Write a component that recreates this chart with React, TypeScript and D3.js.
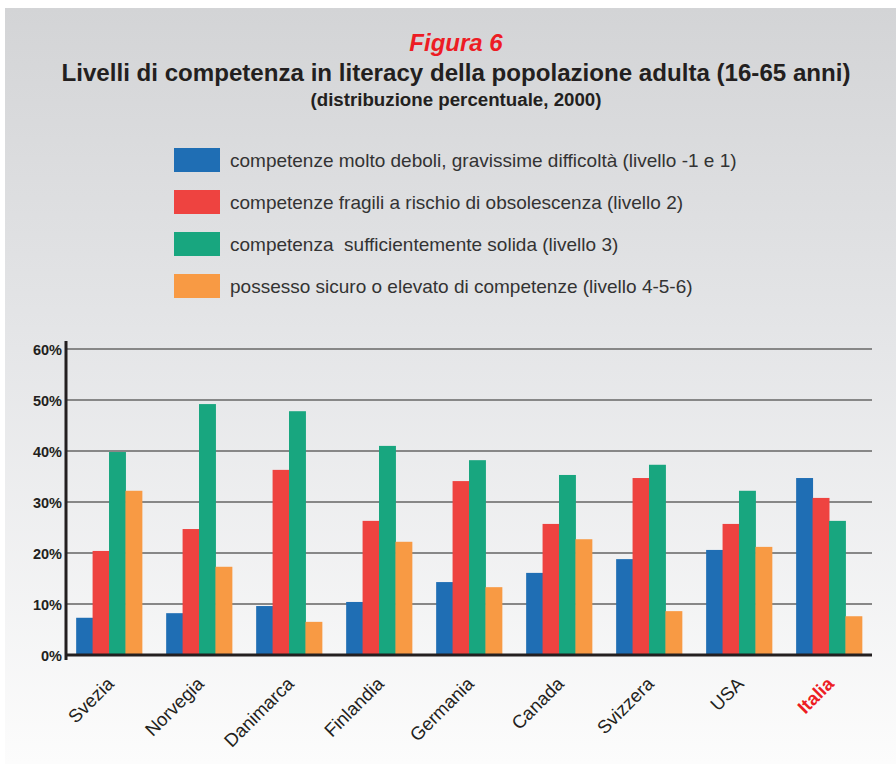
import React from "react";
import * as d3 from "d3";

const countries = ["Svezia", "Norvegia", "Danimarca", "Finlandia", "Germania", "Canada", "Svizzera", "USA", "Italia"];
const seriesNames = [
  "competenze molto deboli, gravissime difficoltà (livello -1 e 1)",
  "competenze fragili a rischio di obsolescenza (livello 2)",
  "competenza  sufficientemente solida (livello 3)",
  "possesso sicuro o elevato di competenze (livello 4-5-6)",
];
const level1 = [7.3, 8.2, 9.6, 10.4, 14.3, 16.1, 18.8, 20.6, 34.7];
const level2 = [20.4, 24.7, 36.3, 26.3, 34.1, 25.7, 34.7, 25.7, 30.8];
const level3 = [39.8, 49.2, 47.8, 41.0, 38.2, 35.3, 37.3, 32.2, 26.3];
const level4 = [32.2, 17.3, 6.5, 22.2, 13.3, 22.7, 8.6, 21.2, 7.6];
const yTicks = [0, 10, 20, 30, 40, 50, 60];
const colors = ["#1f6eb4", "#ee4340", "#18a67f", "#f89a44"];

const series = [level1, level2, level3, level4];

export default function App() {
  const W = 896, H = 764;
  const x0 = 66, x1 = 872, yBase = 655, yTop = 349;
  const x = d3.scaleBand<string>().domain(countries).range([x0, x1]).paddingInner(0.27).paddingOuter(0.113);
  const xi = d3.scaleBand<number>().domain([0, 1, 2, 3]).range([0, x.bandwidth()]).padding(0);
  const y = d3.scaleLinear().domain([0, 60]).range([yBase, yTop]);
  const font = "'Liberation Sans', Arial, Helvetica, sans-serif";

  return (
    <svg width={W} height={H} style={{ position: "absolute", left: 0, top: 0 }} fontFamily={font}>
      <defs>
        <linearGradient id="bg" x1="0" y1="0" x2="0" y2="1">
          <stop offset="0" stopColor="#d3d4d6" />
          <stop offset="0.45" stopColor="#e5e6e8" />
          <stop offset="1" stopColor="#fcfcfc" />
        </linearGradient>
      </defs>
      <rect x={0} y={0} width={W} height={H} fill="#ffffff" />
      <rect x={5} y={8} width={W - 5} height={H - 8} fill="url(#bg)" />

      <text x={456} y={51} textAnchor="middle" fontSize={24} fontWeight="bold" fontStyle="italic" fill="#ed1c24">Figura 6</text>
      <text x={456} y={81} textAnchor="middle" fontSize={24} fontWeight="bold" fill="#231f20" textLength={789} lengthAdjust="spacingAndGlyphs">Livelli di competenza in literacy della popolazione adulta (16-65 anni)</text>
      <text x={456} y={106} textAnchor="middle" fontSize={18} fontWeight="bold" fill="#231f20" textLength={291} lengthAdjust="spacingAndGlyphs">(distribuzione percentuale, 2000)</text>

      {seriesNames.map((name, i) => (
        <g key={name} transform={`translate(174, ${148 + i * 42})`}>
          <rect x={0} y={0} width={46} height={24} fill={colors[i]} />
          <text x={56} y={18.5} fontSize={19} fill="#333333" style={{ whiteSpace: "pre" }}>{name}</text>
        </g>
      ))}

      {yTicks.map((t) => (
        <g key={t}>
          {t > 0 && <line x1={x0} x2={x1} y1={y(t)} y2={y(t)} stroke="#878787" strokeWidth={2} />}
          <text x={62} y={y(t) + 5.5} textAnchor="end" fontSize={14.5} fontWeight="bold" fill="#231f20">{t}%</text>
        </g>
      ))}

      {countries.map((c, ci) => (
        <g key={c} transform={`translate(${x(c)}, 0)`}>
          {series.map((s, si) => (
            <rect key={si} x={xi(si)} y={y(s[ci])} width={xi.bandwidth() + 0.5} height={yBase - y(s[ci])} fill={colors[si]} />
          ))}
        </g>
      ))}

      <line x1={x0} x2={x1} y1={yBase} y2={yBase} stroke="#231f20" strokeWidth={3} />
      <line x1={x0} x2={x0} y1={341} y2={660} stroke="#231f20" strokeWidth={3} />

      {countries.map((c) => {
        const cx = (x(c) as number) + x.bandwidth() / 2 + 6;
        const isIt = c === "Italia";
        return (
          <text key={c} transform={`translate(${cx}, 685) rotate(-45)`} textAnchor="end" fontSize={18.5}
            fontWeight={isIt ? "bold" : "normal"} fill={isIt ? "#ed1c24" : "#231f20"}>{c}</text>
        );
      })}
    </svg>
  );
}
